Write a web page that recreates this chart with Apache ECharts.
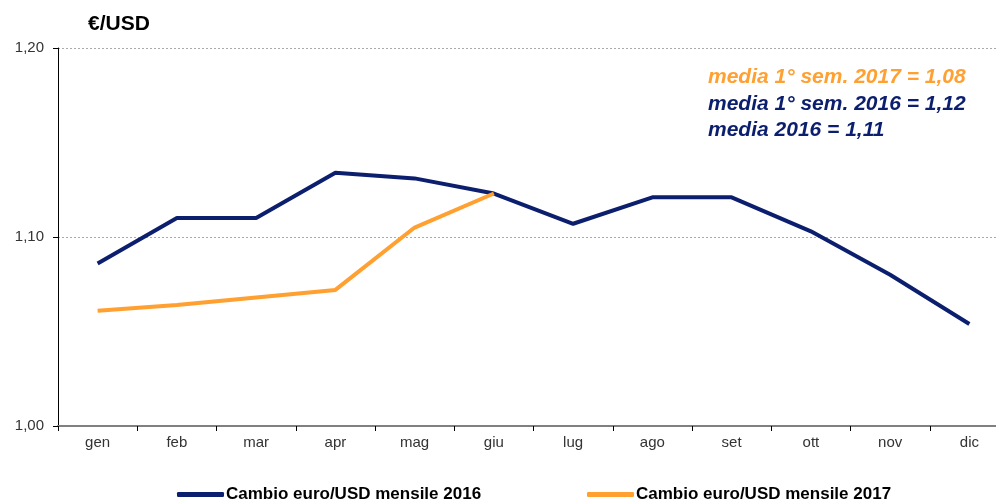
<!DOCTYPE html>
<html>
<head>
<meta charset="utf-8">
<script src="https://cdn.jsdelivr.net/npm/echarts@6/dist/echarts.min.js"></script>
<style>
  html, body { margin: 0; padding: 0; background: #fff; overflow: hidden; }
  #main { width: 1010px; height: 504px; }
</style>
</head>
<body>
<div id="main"></div>
<script>
var months = ['gen', 'feb', 'mar', 'apr', 'mag', 'giu', 'lug', 'ago', 'set', 'ott', 'nov', 'dic'];
var cambio2016 = [1.086, 1.110, 1.110, 1.134, 1.131, 1.123, 1.107, 1.121, 1.121, 1.103, 1.080, 1.054];
var cambio2017 = [1.061, 1.064, 1.068, 1.072, 1.105, 1.123];
var notes = ['media 1° sem. 2017 = 1,08', 'media 1° sem. 2016 = 1,12', 'media 2016 = 1,11'];

var blu = '#0c1f6e';
var arancio = '#ffa030';
var font = 'Liberation Sans, Arial, sans-serif';

var chart = echarts.init(document.getElementById('main'));

var legendText = { fontSize: 17, fontWeight: 'bold', color: '#000', fontFamily: font, padding: [0, 0, 0, -3] };

var option = {
  animation: false,
  textStyle: { fontFamily: font },
  // grid runs a little past the visible 996px, as in the original
  grid: { left: 58, top: 48, right: 1, height: 378 },
  title: {
    text: '€/USD',
    left: 83,
    top: 9,
    textStyle: { fontSize: 21, fontWeight: 'bold', color: '#000', fontFamily: font }
  },
  legend: [
    {
      bottom: -4,
      left: 172,
      itemWidth: 47,
      itemHeight: 5,
      icon: 'roundRect',
      textStyle: legendText,
      data: ['Cambio euro/USD mensile 2016']
    },
    {
      bottom: -4,
      left: 582,
      itemWidth: 47,
      itemHeight: 5,
      icon: 'roundRect',
      textStyle: legendText,
      data: ['Cambio euro/USD mensile 2017']
    }
  ],
  graphic: notes.map(function (t, i) {
    return {
      type: 'text',
      left: 708,
      top: 67 + i * 26.5,
      style: {
        text: t,
        fill: i === 0 ? arancio : blu,
        font: 'italic bold 21px ' + font
      }
    };
  }),
  xAxis: {
    type: 'category',
    data: months,
    boundaryGap: true,
    axisLine: { lineStyle: { color: '#808080', width: 2 } },
    axisTick: { show: true, length: 5, lineStyle: { color: '#000' } },
    axisLabel: { color: '#333', fontSize: 15, margin: 9 },
    splitLine: { show: false }
  },
  yAxis: {
    type: 'value',
    min: 1.0,
    max: 1.2,
    interval: 0.1,
    axisLine: { show: true, lineStyle: { color: '#000', width: 1 } },
    axisTick: { show: true, length: 5, lineStyle: { color: '#000' } },
    axisLabel: {
      color: '#333',
      fontSize: 15,
      margin: 14,
      formatter: function (v) { return v.toFixed(2).replace('.', ','); }
    },
    splitLine: { show: true, lineStyle: { color: '#aaa', type: [2, 2], width: 1 } }
  },
  series: [
    {
      name: 'Cambio euro/USD mensile 2016',
      type: 'line',
      data: cambio2016,
      symbol: 'none',
      color: blu,
      lineStyle: { width: 4, color: blu }
    },
    {
      name: 'Cambio euro/USD mensile 2017',
      type: 'line',
      data: cambio2017,
      symbol: 'none',
      color: arancio,
      lineStyle: { width: 4, color: arancio }
    }
  ]
};

chart.setOption(option);
</script>
</body>
</html>
